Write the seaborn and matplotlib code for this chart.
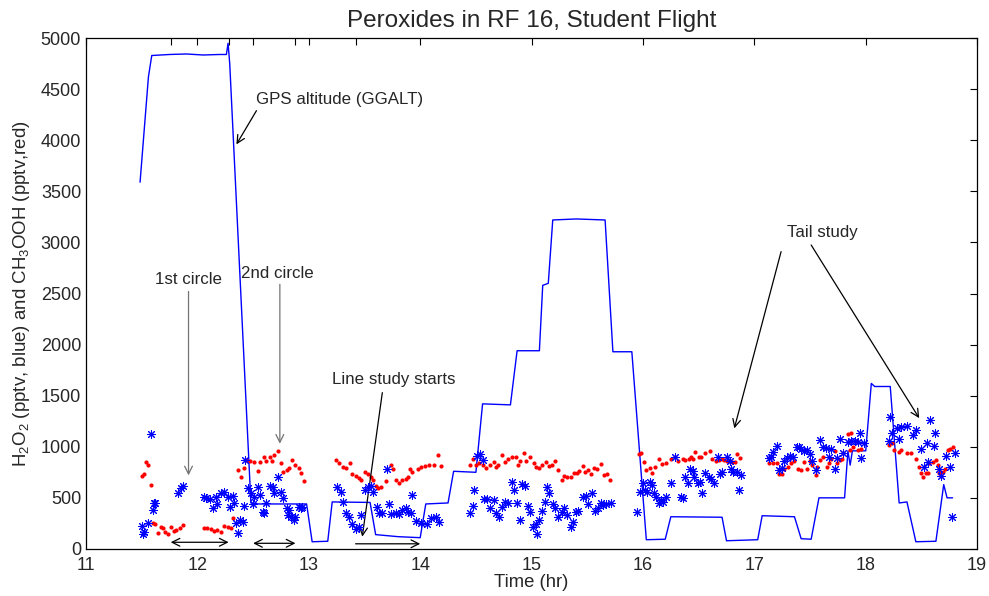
import numpy as np
import pandas as pd
import seaborn as sns
import matplotlib.pyplot as plt

sns.set_style("white")
plt.rcParams['font.family'] = ['Liberation Sans', 'DejaVu Sans']
plt.rcParams['mathtext.default'] = 'regular'

# GPS altitude (GGALT), m
alt_time = [11.485, 11.56, 11.59, 11.75, 11.9, 12.05, 12.2, 12.26, 12.275, 12.29, 12.48, 12.55,
            12.98, 13.03, 13.17, 13.21, 13.55, 13.60, 13.8, 14.0, 14.05, 14.25, 14.30, 14.50,
            14.56, 14.81, 14.87, 15.07, 15.10, 15.15, 15.19, 15.40, 15.66, 15.73, 15.90, 16.03,
            16.20, 16.25, 16.71, 16.75, 17.03, 17.07, 17.36, 17.42, 17.51, 17.58, 17.81, 17.84,
            17.86, 17.88, 18.00, 18.05, 18.08, 18.22, 18.30, 18.37, 18.45, 18.63, 18.70, 18.73, 18.78]
alt_val = [3590, 4620, 4830, 4840, 4845, 4835, 4840, 4840, 4950, 4750, 450, 440,
           440, 70, 75, 460, 455, 140, 120, 110, 440, 450, 760, 750,
           1420, 1410, 1940, 1940, 2580, 2600, 3220, 3230, 3220, 1930, 1930, 90,
           95, 315, 310, 80, 90, 325, 315, 100, 95, 500, 500, 960,
           820, 960, 960, 1620, 1590, 1590, 450, 460, 70, 75, 630, 500, 500]

# H2O2 (pptv, blue)
h2o2_time = [11.50, 11.51, 11.52, 11.56, 11.58, 11.60, 11.61, 11.62, 11.83, 11.85, 11.87,
             12.06, 12.08, 12.11, 12.14, 12.17, 12.18, 12.21, 12.24, 12.27, 12.29, 12.32, 12.33,
             12.35, 12.36, 12.38, 12.41, 12.42, 12.43, 12.45, 12.48, 12.50, 12.51, 12.54, 12.56,
             12.59, 12.60, 12.62, 12.65, 12.68, 12.69, 12.72, 12.75, 12.77, 12.80, 12.81, 12.82,
             12.84, 12.87, 12.88, 12.91, 12.93, 12.94,
             13.25, 13.29, 13.31, 13.33, 13.36, 13.39, 13.42, 13.45, 13.47, 13.50, 13.53, 13.56,
             13.58, 13.61, 13.63, 13.66, 13.70, 13.72, 13.74, 13.78, 13.81, 13.84, 13.87, 13.89,
             13.92, 13.93, 13.96, 14.01, 14.06, 14.10, 14.14, 14.17,
             14.45, 14.47, 14.48, 14.51, 14.54, 14.56, 14.57, 14.60, 14.63, 14.66, 14.68, 14.71,
             14.73, 14.76, 14.79, 14.82, 14.84, 14.87, 14.90, 14.91, 14.94, 14.97, 14.99, 15.01,
             15.04, 15.05, 15.07, 15.09, 15.12, 15.14, 15.16, 15.19, 15.21, 15.24, 15.27, 15.29,
             15.32, 15.35, 15.37, 15.40, 15.42, 15.46, 15.49, 15.51, 15.54, 15.57, 15.60, 15.62,
             15.64, 15.67, 15.71,
             15.95, 15.97, 16.00, 16.02, 16.04, 16.06, 16.08, 16.10, 16.12, 16.14, 16.16, 16.18,
             16.21, 16.25, 16.29, 16.34, 16.36, 16.38, 16.40, 16.42, 16.45, 16.46, 16.49, 16.51,
             16.53, 16.56, 16.59, 16.61, 16.64, 16.67, 16.69, 16.71, 16.75, 16.78, 16.79, 16.81,
             16.84, 16.86, 16.88,
             17.13, 17.15, 17.17, 17.20, 17.22, 17.25, 17.27, 17.29, 17.32, 17.35, 17.38, 17.40,
             17.42, 17.45, 17.47, 17.50, 17.52, 17.55, 17.59, 17.62, 17.64, 17.67, 17.69, 17.72,
             17.74, 17.77, 17.80, 17.84, 17.87, 17.90, 17.93, 17.95, 17.96, 17.98,
             18.21, 18.22, 18.24, 18.28, 18.30, 18.32, 18.37, 18.42, 18.45, 18.50, 18.52, 18.55,
             18.56, 18.58, 18.61, 18.62, 18.66, 18.68, 18.72, 18.76, 18.77, 18.80]
h2o2_val = [225, 147, 170, 258, 1122, 380, 450, 450, 548, 598, 620,
            512, 496, 486, 398, 512, 440, 545, 561, 512, 414, 519, 447,
            251, 153, 284, 268, 420, 870, 594, 545, 440, 512, 604, 528,
            365, 349, 447, 616, 610, 545, 701, 561, 496, 398, 333, 382,
            316, 284, 316, 414, 398, 414,
            604, 561, 463, 355, 316, 245, 192, 218, 333, 577, 604, 616,
            561, 414, 349, 355, 780, 440, 342, 349, 342, 382, 398, 365,
            349, 528, 277, 251, 245, 300, 316, 268,
            355, 420, 577, 910, 930, 871, 486, 486, 398, 480, 355, 310,
            414, 463, 447, 659, 577, 453, 284, 636, 616, 420, 365, 218,
            245, 147, 284, 375, 463, 610, 545, 440, 398, 310, 365, 398,
            333, 218, 268, 365, 375, 512, 519, 440, 545, 375, 398, 447,
            430, 440, 453,
            365, 561, 643, 577, 561, 659, 626, 545, 506, 453, 480, 463,
            506, 643, 897, 506, 496, 708, 649, 779, 766, 708, 643, 659,
            551, 740, 708, 682, 643, 897, 734, 757, 897, 864, 779, 757,
            757, 577, 724,
            887, 897, 952, 1008, 773, 790, 864, 887, 910, 897, 994, 994,
            975, 962, 969, 930, 864, 773, 1066, 994, 984, 897, 975, 779,
            887, 1073, 943, 1050, 1060, 1060, 1050, 1131, 887, 1040,
            1060, 1289, 1138, 1180, 1080, 1190, 1203, 1115, 1164, 975, 806, 1040,
            855, 1262, 1008, 1138, 779, 714, 910, 806, 310, 943]

# CH3OOH (pptv, red)
ch3ooh_time = [11.50, 11.52, 11.54, 11.56, 11.58, 11.60, 11.62, 11.65, 11.67, 11.69, 11.71,
               11.74, 11.76, 11.79, 11.81, 11.84, 11.87,
               12.06, 12.09, 12.12, 12.15, 12.18, 12.21, 12.24, 12.27, 12.30, 12.32,
               12.36, 12.39, 12.42, 12.44, 12.47, 12.51, 12.54, 12.56, 12.60, 12.62, 12.65, 12.67,
               12.69, 12.72, 12.75, 12.77, 12.80, 12.82, 12.85, 12.88, 12.91, 12.93, 12.96,
               13.24, 13.27, 13.31, 13.33, 13.37, 13.39, 13.42, 13.45, 13.47, 13.50, 13.53, 13.56,
               13.58, 13.60, 13.62, 13.65, 13.69, 13.74, 13.76, 13.78, 13.81, 13.84, 13.87, 13.89,
               13.91, 13.93, 13.98, 14.01, 14.04, 14.08, 14.12, 14.16, 14.19,
               14.45, 14.47, 14.50, 14.53, 14.56, 14.59, 14.63, 14.66, 14.68, 14.70, 14.73, 14.76,
               14.79, 14.82, 14.86, 14.88, 14.90, 14.93, 14.95, 14.99, 15.02, 15.04, 15.07, 15.09,
               15.13, 15.16, 15.18, 15.21, 15.24, 15.27, 15.29, 15.32, 15.35, 15.38, 15.41, 15.43,
               15.46, 15.48, 15.51, 15.53, 15.56, 15.59, 15.62, 15.65, 15.68, 15.70,
               15.96, 15.98, 16.01, 16.03, 16.06, 16.08, 16.11, 16.14, 16.17, 16.21, 16.25, 16.29,
               16.31, 16.36, 16.38, 16.41, 16.43, 16.45, 16.47, 16.50, 16.52, 16.56, 16.60, 16.62,
               16.66, 16.68, 16.71, 16.73, 16.75, 16.77, 16.80, 16.83, 16.84, 16.87,
               17.13, 17.17, 17.20, 17.22, 17.25, 17.27, 17.30, 17.33, 17.36, 17.39, 17.42, 17.45,
               17.47, 17.50, 17.52, 17.55, 17.56, 17.59, 17.62, 17.65, 17.67, 17.69, 17.72, 17.74,
               17.77, 17.79, 17.80, 17.84, 17.86, 17.87, 17.89, 17.91, 17.93, 17.96,
               18.21, 18.24, 18.25, 18.30, 18.32, 18.37, 18.41, 18.45, 18.48, 18.50, 18.51, 18.54,
               18.56, 18.57, 18.60, 18.63, 18.65, 18.66, 18.67, 18.68, 18.69, 18.71, 18.74, 18.76,
               18.78]
ch3ooh_val = [714, 733, 855, 822, 626, 258, 245, 153, 212, 202, 169,
              147, 218, 179, 186, 202, 235,
              209, 202, 192, 179, 186, 169, 225, 218, 202, 300,
              773, 708, 790, 871, 864, 855, 766, 855, 903, 864, 903, 864,
              920, 962, 838, 757, 773, 790, 871, 822, 790, 740, 668,
              871, 838, 799, 790, 845, 734, 714, 692, 675, 757, 734, 708,
              675, 616, 594, 604, 668, 822, 780, 675, 649, 675, 682, 701,
              780, 757, 780, 799, 812, 822, 822, 920, 812,
              822, 877, 822, 845, 822, 790, 822, 855, 799, 822, 920, 855,
              877, 897, 897, 822, 864, 936, 864, 897, 845, 806, 790, 822,
              855, 812, 822, 864, 773, 675, 714, 701, 701, 740, 747, 766,
              812, 757, 773, 734, 790, 780, 832, 724, 734, 675,
              930, 936, 848, 773, 790, 740, 799, 877, 832, 845, 877, 897,
              864, 877, 870, 877, 897, 877, 952, 903, 897, 936, 962, 877,
              864, 870, 877, 870, 864, 864, 855, 855, 930, 887,
              845, 845, 838, 734, 734, 779, 806, 838, 864, 779, 773, 855,
              779, 864, 822, 724, 806, 870, 903, 799, 838, 877, 962, 838,
              870, 877, 936, 1125, 969, 1138, 994, 1060, 969, 975,
              1018, 1040, 969, 952, 969, 943, 936, 877, 799, 747, 701, 747,
              747, 838, 855, 870, 822, 747, 757, 714, 757, 779, 969, 975,
              994]

# extra tick marks that bound the flight legs
leg_ticks = [11.76, 12.28, 12.50, 12.88, 13.42]

alt = pd.DataFrame({'time': alt_time, 'alt': alt_val})
h2o2 = pd.DataFrame({'time': h2o2_time, 'val': h2o2_val})
ch3ooh = pd.DataFrame({'time': ch3ooh_time, 'val': ch3ooh_val})

fig = plt.figure(figsize=(9.89, 5.96), dpi=100)
ax = fig.add_axes([0.087, 0.079, 0.901, 0.857])

sns.lineplot(data=alt, x='time', y='alt', color='blue', linewidth=1.0, ax=ax,
             estimator=None, sort=False)
sns.scatterplot(data=ch3ooh, x='time', y='val', color='red', marker='o', s=9,
                linewidth=0, ax=ax, zorder=3)
sns.scatterplot(data=h2o2, x='time', y='val', color='blue', marker=(8, 2, 0), s=34,
                linewidth=0.75, ax=ax, zorder=4)

ax.set_xlim(11, 19)
ax.set_ylim(0, 5000)
ax.set_xticks(range(11, 20))
ax.set_yticks(range(0, 5001, 500))
ax.set_xticks(leg_ticks, minor=True)
ax.tick_params(which='both', direction='in', top=True, right=True, length=5,
               width=0.8, labelsize=13, color='black')
ax.tick_params(axis='x', pad=6)
for s in ax.spines.values():
    s.set_color('black')
    s.set_linewidth(0.9)

ax.set_title('Peroxides in RF 16, Student Flight', fontsize=17.5, pad=8)
ax.set_xlabel('Time (hr)', fontsize=13.3, labelpad=0)
ax.set_ylabel('H$_2$O$_2$ (pptv, blue) and CH$_3$OOH (pptv,red)', fontsize=13.4, labelpad=6)

arrow_kw = dict(arrowstyle='->', lw=0.9, shrinkA=0, shrinkB=0,
                mutation_scale=14)

ax.text(12.53, 4400, 'GPS altitude (GGALT)', fontsize=12.2, va='center', ha='left')
ax.annotate('', xy=(12.35, 3960), xytext=(12.53, 4290),
            arrowprops=dict(color='black', **arrow_kw))

ax.text(11.92, 2640, '1st circle', fontsize=12.2, ha='center', va='center')
ax.annotate('', xy=(11.92, 720), xytext=(11.92, 2520),
            arrowprops=dict(color='0.45', **arrow_kw))

ax.text(12.72, 2700, '2nd circle', fontsize=12.2, ha='center', va='center')
ax.annotate('', xy=(12.74, 1030), xytext=(12.74, 2590),
            arrowprops=dict(color='0.45', **arrow_kw))

ax.text(13.76, 1660, 'Line study starts', fontsize=12.2, ha='center', va='center')
ax.annotate('', xy=(13.48, 120), xytext=(13.66, 1530),
            arrowprops=dict(color='black', **arrow_kw))

ax.text(17.61, 3100, 'Tail study', fontsize=12.2, ha='center', va='center')
ax.annotate('', xy=(16.82, 1180), xytext=(17.24, 2910),
            arrowprops=dict(color='black', **arrow_kw))
ax.annotate('', xy=(18.48, 1280), xytext=(17.51, 2975),
            arrowprops=dict(color='black', **arrow_kw))

# leg brackets along the bottom
ax.annotate('', xy=(12.28, 65), xytext=(11.76, 65),
            arrowprops=dict(arrowstyle='<->', color='black', lw=0.9,
                            shrinkA=0, shrinkB=0, mutation_scale=14))
ax.annotate('', xy=(12.88, 55), xytext=(12.50, 55),
            arrowprops=dict(arrowstyle='<->', color='black', lw=0.9,
                            shrinkA=0, shrinkB=0, mutation_scale=14))
ax.annotate('', xy=(14.0, 50), xytext=(13.42, 50),
            arrowprops=dict(color='black', **arrow_kw))

fig.savefig('out.png', dpi=100)
